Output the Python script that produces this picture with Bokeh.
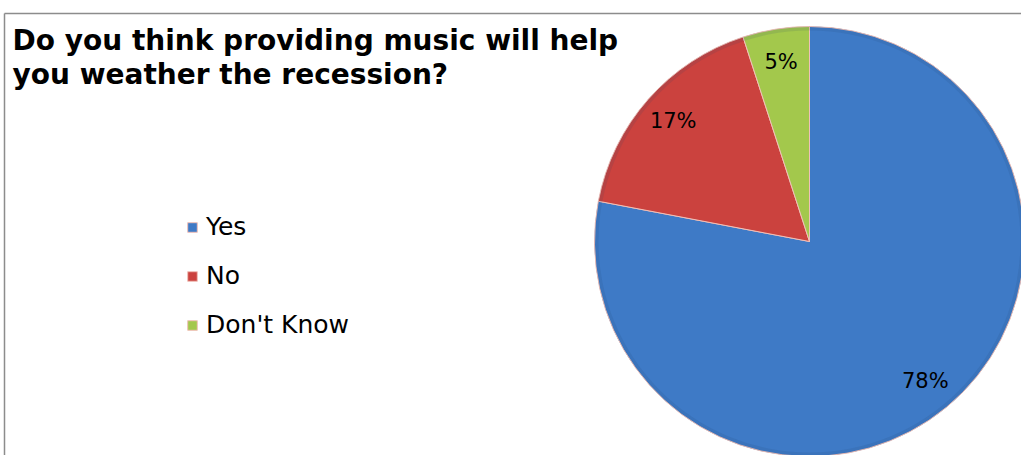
import numpy as np
from bokeh.plotting import figure
from bokeh.models import Range1d, Legend, LegendItem, ColumnDataSource, Label
from bokeh.core.properties import value
from bokeh.embed import file_html
from bokeh.resources import INLINE

categories = ["Yes", "No", "Don't Know"]
shares = [78, 17, 5]
labels = ["78%", "17%", "5%"]
colors = ["#3e7ac6", "#cb423e", "#a3c84c"]
title_lines = ["Do you think providing music will help", "you weather the recession?"]

W, H = 1021, 455
p = figure(width=W, height=H, output_backend="svg", toolbar_location=None,
           x_range=Range1d(0, W), y_range=Range1d(0, H), min_border=0)
p.axis.visible = False
p.grid.visible = False
p.outline_line_color = None
p.background_fill_color = "white"

# chart-area border (top and left)
p.segment(x0=[4, 4], y0=[H - 13, H - 13], x1=[W, 4], y1=[H - 13, 0], line_color="#8c8c8c", line_width=1.5)

cx, cy, r = 809, H - 241, 215
frac = np.array(shares, dtype=float) / sum(shares)
cum = np.concatenate([[0], np.cumsum(frac)]) * 2 * np.pi
start = np.pi / 2 - cum[:-1]
end = np.pi / 2 - cum[1:]
mid = (cum[:-1] + cum[1:]) / 2
lr = 0.845 * r
src = ColumnDataSource(dict(start=start, end=end, color=colors, cat=categories,
                            lx=cx + lr * np.sin(mid), ly=cy + lr * np.cos(mid), lab=labels))
w = p.wedge(x=cx, y=cy, radius=r, start_angle="start", end_angle="end", direction="clock",
            fill_color="color", line_color="#f0c0b8", line_width=1, source=src)
# subtle darker rim
p.annulus(x=cx, y=cy, inner_radius=r - 4, outer_radius=r, fill_color="#1f3f6a", fill_alpha=0.12, line_color=None)

p.text(x="lx", y="ly", text="lab", source=src, text_align="center", text_baseline="middle",
       text_font=value("DejaVu Sans"), text_font_size="21px", text_color="black")

for i, t in enumerate(title_lines):
    p.add_layout(Label(x=12, y=H - 40 - 34 * i, text=t, text_font="DejaVu Sans",
                       text_font_style="bold", text_font_size="28px", text_color="black",
                       text_baseline="alphabetic"))

items = [LegendItem(label=c, renderers=[w], index=i) for i, c in enumerate(categories)]
leg = Legend(items=items, location=(186, 116), padding=0, margin=0, spacing=20,
             label_text_font="DejaVu Sans", label_text_font_size="25px", label_height=26,
             glyph_width=12, glyph_height=12, label_standoff=8, border_line_color=None,
             background_fill_alpha=0, label_text_color="black")
p.add_layout(leg)

open("out.html", "w").write(file_html(p, INLINE))
